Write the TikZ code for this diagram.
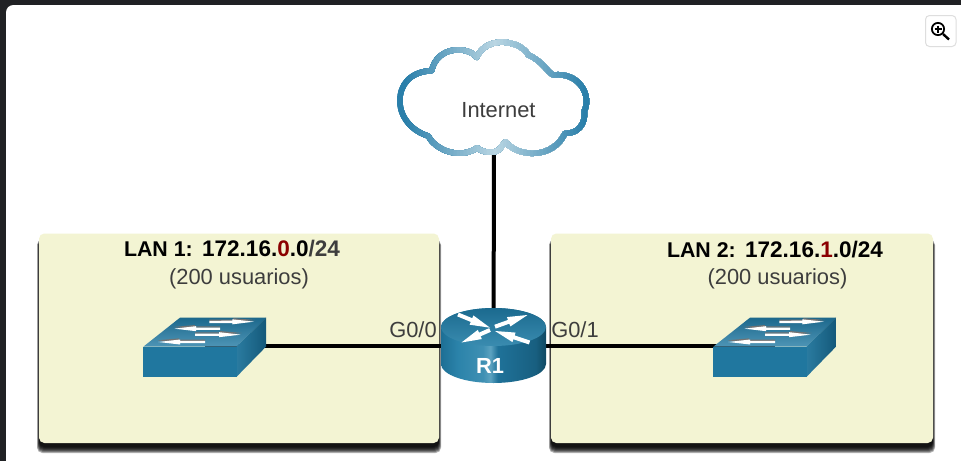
\documentclass[tikz,border=0pt]{standalone}
\usepackage{fontspec}
\setmainfont{Liberation Sans}
\definecolor{chrome}{HTML}{202124}
\definecolor{panel}{HTML}{F3F4D3}
\definecolor{cdark}{HTML}{2A7FAA}
\definecolor{clight}{HTML}{BAD6E3}
\definecolor{inktext}{HTML}{3D3D3D}
\definecolor{netred}{HTML}{8B0000}
\definecolor{swfront}{HTML}{20779F}
\definecolor{swback}{HTML}{1C688C}
\definecolor{swnear}{HTML}{4E95B6}
\definecolor{swrleft}{HTML}{2A7BA0}
\definecolor{swrright}{HTML}{14597A}
\definecolor{rtop}{HTML}{1B6A8F}
\definecolor{rbot}{HTML}{3A8CB0}
\definecolor{rs0}{HTML}{1D6F95}
\definecolor{rs1}{HTML}{2B83AA}
\definecolor{rs2}{HTML}{3F90B3}
\definecolor{rs3}{HTML}{5BA2C0}
\definecolor{rs4}{HTML}{1F7299}
\definecolor{rs5}{HTML}{185F80}
\definecolor{rs6}{HTML}{0F4963}
\pgfdeclarehorizontalshading{routerside}{100bp}{color(0bp)=(rs0); color(25bp)=(rs0); color(33bp)=(rs1); color(45bp)=(rs2); color(48.5bp)=(rs3); color(52bp)=(rs4); color(70bp)=(rs5); color(75bp)=(rs6); color(100bp)=(rs6)}
\newcommand\netsize{\fontsize{16.9}{19}\selectfont}
\tikzset{
  lbl/.style={font=\fontsize{16.4}{19}\selectfont, inner sep=0pt, anchor=base, text=inktext},
  lanhead/.style={font=\fontsize{16}{19}\selectfont\bfseries, inner sep=0pt, anchor=base, text=black},
  link/.style={draw=black, line width=3pt},
  hotspot/.style={inner sep=0pt, outer sep=0pt, minimum width=#1, minimum height=45pt},
  lanpanel/.style={fill=panel, rounded corners=4pt}
}
% tail x, tail y, tip x, tip y, half bar, half head, head length, colour
\newcommand\iconarrow[8]{%
  \pgfmathsetmacro\arrowang{atan2(-(#4-#2),#3-#1)}%
  \pgfmathsetmacro\arrowlen{veclen(#3-#1,#4-#2)}%
  \fill[#8,shift={(#1,#2)},rotate=\arrowang] (0,-#5) -- (\arrowlen-#7,-#5) -- (\arrowlen-#7,-#6) -- (\arrowlen,0) -- (\arrowlen-#7,#6) -- (\arrowlen-#7,#5) -- (0,#5) -- cycle;%
}
\newcommand\lanbox[4]{%
  \foreach \g/\h in {2/10,1.5/9,1/8,.6/7,.3/6,0/5,0/4}{%
    \fill[black,opacity=.3,rounded corners=4pt] (#1-\g,#2+6) rectangle (#3+\g,#4+\h);
  }%
  \fill[lanpanel] (#1,#2) rectangle (#3,#4);%
}
\newcommand\swicon[1]{%
  \begin{scope}[shift={(#1,305)},x=.25pt,y=-.25pt]
    \shade[top color=swback,bottom color=swnear] (40,125) -- (150,38) -- (408,38) -- (320,125) -- cycle;
    \shade[left color=swrleft,right color=swrright] (320,125) -- (408,38) -- (408,125) -- (320,215) -- cycle;
    \fill[swfront] (40,125) rectangle (320,215);
    \iconarrow{238}{46}{375}{45}{2}{6}{65}{black!55}
    \iconarrow{270}{66}{130}{66}{2}{6}{65}{black!55}
    \iconarrow{195}{84}{335}{84}{2}{6}{65}{black!55}
    \iconarrow{225}{106}{82}{106}{2}{6}{65}{black!55}
    \iconarrow{238}{51}{372}{50}{3.5}{7.5}{65}{white}
    \iconarrow{270}{71}{133}{71}{3.5}{7.5}{65}{white}
    \iconarrow{195}{89}{332}{89}{3.5}{7.5}{65}{white}
    \iconarrow{225}{111}{85}{111}{3.5}{7.5}{65}{white}
  \end{scope}%
}
\def\cloudpath{(155,122) .. controls (90,125) and (58,165) .. (60,215) .. controls (60,265) and (100,305) .. (145,318) .. controls (165,360) and (240,390) .. (292,353) .. controls (305,368) and (345,372) .. (358,358) .. controls (365,350) and (370,342) .. (376,336) .. controls (420,385) and (520,385) .. (555,310) .. controls (590,312) and (618,285) .. (613,242) .. controls (635,200) and (600,125) .. (520,135) .. controls (500,125) and (490,95) .. (445,75) .. controls (420,30) and (320,15) .. (290,82) .. controls (260,45) and (170,50) .. (155,122) -- cycle}
\begin{document}
\begin{tikzpicture}[x=.75pt,y=-.75pt]
\useasboundingbox (0,0) rectangle (961,461);
% window
\fill[chrome] (0,0) rectangle (961,461);
\fill[white] (6,461) -- (6,13) .. controls (6,8) and (9,5) .. (14,5) -- (961,5) -- (961,461) -- cycle;
% zoom button
\draw[draw=black!13,fill=white,rounded corners=3pt,line width=.75pt] (925.5,15.5) rectangle (956,46.5);
\draw[black,line width=1.3pt] (938,29) circle[radius=4.6pt];
\draw[black,line width=.9pt] (934.5,29) -- (941.5,29) (938,25.5) -- (938,32.5);
\draw[black,line width=1.8pt] (943,34) -- (949,39.5);
% LAN panels
\lanbox{39}{233.5}{439}{443}
\lanbox{551}{233.5}{933}{443}
% anchors for the connectors
\node[hotspot=144pt,minimum height=85pt] (cloud) at (494,96.5) {};
\node[hotspot=79pt,minimum height=56pt] (router) at (493.5,346) {};
\node[hotspot=92.25pt] (swa) at (204.5,346) {};
\node[hotspot=92.25pt] (swb) at (774.5,346) {};
% connectors
\draw[link] (cloud.south) -- (router.center);
\draw[link] (swa.center) -- (router.center);
\draw[link] (swb.center) -- (router.center);
% cloud outline
\begin{scope}[shift={(380,30)},x=.25pt,y=-.25pt]
  \foreach \i in {0,...,65}{
    \pgfmathsetmacro\cx{20+10*\i}
    \pgfmathsetmacro\cm{100*min(1,abs(\cx-340)/270)}
    \begin{scope}
      \clip (\cx,-20) rectangle (680,420);
      \draw[cdark!\cm!clight,line width=4.1pt,line join=round] \cloudpath;
    \end{scope}
  }
\end{scope}
% switches
\swicon{130}
\swicon{700}
% router
\shade[shading=routerside] (441,327) -- (441,364) arc[start angle=180,end angle=360,x radius=39.375pt,y radius=14.25pt] -- (546,327) arc[start angle=0,end angle=180,x radius=39.375pt,y radius=14.25pt] -- cycle;
\shade[top color=rtop,bottom color=rbot] (493.5,327) ellipse[x radius=39.375pt,y radius=14.25pt];
\iconarrow{458}{314.5}{490}{327.7}{2}{5}{20}{white}
\iconarrow{495}{326.7}{527.5}{315}{2}{5}{20}{white}
\iconarrow{490}{330}{461.5}{342.5}{2}{5}{20}{white}
\iconarrow{529.5}{342.5}{495}{331}{2}{5}{20}{white}
% labels
\node[lbl] (inet) at (498.5,117) {Internet};
\node[lbl] (g00) at (413,337) {G0/0};
\node[lbl] (g01) at (575,337) {G0/1};
\node[lanhead,text=white,font=\fontsize{16.4}{19}\selectfont\bfseries] (rname) at (490,373) {R1};
\node[lanhead] (lana) at (232,256) {LAN 1:\hspace{7pt}{\netsize 172.16.\textcolor{netred}{0}.0\textcolor{inktext}{/24}}};
\node[lbl] (usersa) at (239,284.3) {(200 usuarios)};
\node[lanhead] (lanb) at (775,257.5) {LAN 2:\hspace{7pt}{\netsize 172.16.\textcolor{netred}{1}.0/24}};
\node[lbl] (usersb) at (777.5,284.8) {(200 usuarios)};
\end{tikzpicture}
\end{document}
